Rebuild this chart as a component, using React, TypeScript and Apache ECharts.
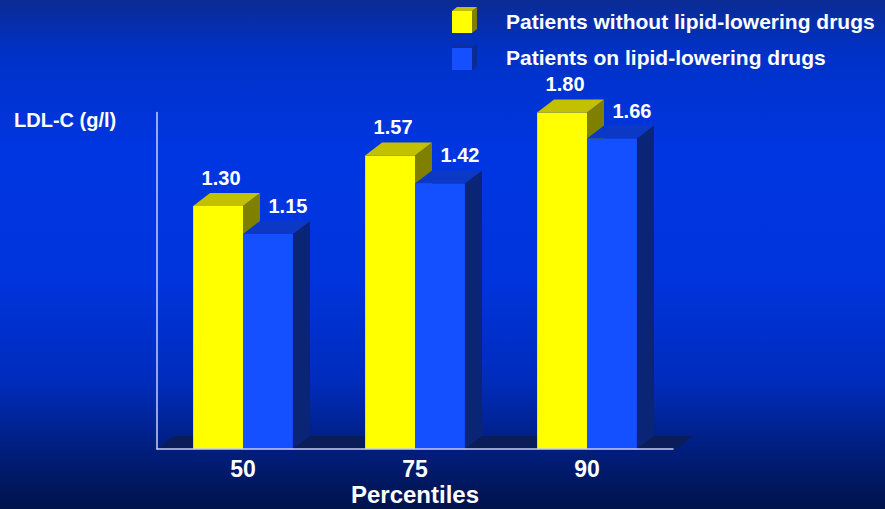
import React, { useEffect, useRef } from "react";
import * as echarts from "echarts";

// Percentile categories and LDL-C values (g/l)
const categories = ["50", "75", "90"];
const seriesNames = [
  "Patients without lipid-lowering drugs",
  "Patients on lipid-lowering drugs",
];
const withoutDrugs = [1.3, 1.57, 1.8];
const onDrugs = [1.15, 1.42, 1.66];
const yAxisTitle = "LDL-C (g/l)";
const xAxisTitle = "Percentiles";

// 3D face colours: [front, top, side]
const faceColors = [
  ["#ffff00", "#c2c000", "#808000"],
  ["#1450ff", "#0b38c4", "#0a2476"],
];

const DX = 17; // depth offset to the right
const DY = 13; // depth offset upwards
const FONT = '"Liberation Sans", Arial, sans-serif';

function barRenderer(s: number) {
  return (params: any, api: any) => {
    const cat = api.value(0);
    const val = api.value(1);
    const base = api.coord([cat, 0]);
    const top = api.coord([cat, val]);
    const band = api.size([1, 0])[0];
    const bw = band * 0.29;
    const cx = base[0];
    const y0 = base[1];
    const y1 = top[1];
    const x0 = s === 0 ? cx - bw : cx;
    const x1 = x0 + bw;
    const [front, topC, side] = faceColors[s];
    return {
      type: "group",
      children: [
        {
          type: "polygon",
          shape: {
            points: [
              [x1, y1],
              [x1 + DX, y1 - DY],
              [x1 + DX, y0 - DY],
              [x1, y0],
            ],
          },
          style: { fill: side },
        },
        {
          type: "rect",
          shape: { x: x0, y: y1, width: bw, height: y0 - y1 },
          style: { fill: front },
        },
        {
          type: "polygon",
          shape: {
            points: [
              [x0, y1],
              [x1, y1],
              [x1 + DX, y1 - DY],
              [x0 + DX, y1 - DY],
            ],
          },
          style: { fill: topC },
        },
        {
          type: "text",
          style: {
            text: val.toFixed(2),
            x: (x0 + x1) / 2 + (s === 0 ? 3 : 20),
            y: y1 - DY - 15,
            textAlign: "center",
            textVerticalAlign: "middle",
            fill: "#ffffff",
            font: `bold 20px ${FONT}`,
          },
          z2: 10,
        },
      ],
    };
  };
}

function floorRenderer(params: any) {
  const cs = params.coordSys;
  const yb = cs.y + cs.height;
  const xl = cs.x;
  const xr = cs.x + cs.width + 3;
  return {
    type: "polygon",
    shape: {
      points: [
        [xl, yb],
        [xr, yb],
        [xr + DX, yb - DY],
        [xl + DX, yb - DY],
      ],
    },
    style: { fill: "#0a1d58" },
  };
}

function legendCube(x: number, y: number, colors: string[]) {
  const w = 20;
  const h = 22;
  const dx = 5;
  const dy = 4;
  return [
    {
      type: "polygon",
      shape: { points: [[x + w, y], [x + w + dx, y - dy], [x + w + dx, y + h - dy], [x + w, y + h]] },
      style: { fill: colors[2] },
    },
    {
      type: "polygon",
      shape: { points: [[x, y], [x + w, y], [x + w + dx, y - dy], [x + dx, y - dy]] },
      style: { fill: colors[1] },
    },
    { type: "rect", shape: { x, y, width: w, height: h }, style: { fill: colors[0] } },
  ];
}

export default function App() {
  const ref = useRef<HTMLDivElement>(null);

  useEffect(() => {
    if (!ref.current) return;
    const chart = echarts.init(ref.current, null, { renderer: "svg" });
    chart.setOption({
      animation: false,
      backgroundColor: new echarts.graphic.LinearGradient(0, 0, 0, 1, [
        { offset: 0, color: "#0b2b94" },
        { offset: 0.1, color: "#0031c6" },
        { offset: 0.3, color: "#0036e2" },
        { offset: 0.55, color: "#0034dc" },
        { offset: 0.75, color: "#002cbc" },
        { offset: 0.87, color: "#001f84" },
        { offset: 1, color: "#00134a" },
      ]),
      grid: { left: 157, right: 212, top: 112.4, bottom: 60, outerBoundsMode: "none" },
      xAxis: {
        type: "category",
        data: categories,
        z: 10,
        axisLine: { show: true, lineStyle: { color: "#c8d0f0", width: 1.5 } },
        axisTick: { show: false },
        axisLabel: {
          color: "#ffffff",
          fontSize: 23,
          fontWeight: "bold",
          fontFamily: FONT,
          margin: 8,
        },
        name: xAxisTitle,
        nameLocation: "middle",
        nameGap: 33,
        nameMoveOverlap: false,
        nameTextStyle: {
          color: "#ffffff",
          fontSize: 24,
          fontWeight: "bold",
          fontFamily: FONT,
        },
      },
      yAxis: {
        type: "value",
        min: 0,
        max: 1.8,
        z: 10,
        axisLine: { show: true, lineStyle: { color: "#c8d0f0", width: 1.5 } },
        axisTick: { show: false },
        axisLabel: { show: false },
        splitLine: { show: false },
      },
      series: [
        {
          type: "custom",
          name: "floor",
          data: [[0, 0]],
          renderItem: floorRenderer,
          silent: true,
          z: 1,
        },
        {
          type: "custom",
          name: seriesNames[0],
          data: withoutDrugs.map((v, i) => [i, v]),
          encode: { x: 0, y: 1 },
          renderItem: barRenderer(0),
          clip: false,
          z: 2,
        },
        {
          type: "custom",
          name: seriesNames[1],
          data: onDrugs.map((v, i) => [i, v]),
          encode: { x: 0, y: 1 },
          renderItem: barRenderer(1),
          clip: false,
          z: 3,
        },
      ],
      graphic: [
        {
          type: "text",
          left: 14,
          top: 110,
          style: {
            text: yAxisTitle,
            fill: "#ffffff",
            font: `bold 20px ${FONT}`,
          },
        },
        ...legendCube(452, 11, faceColors[0]),
        ...legendCube(452, 48, ["#1450ff", "#0a2ea6", "#0a2a98"]),
        {
          type: "text",
          left: 506,
          top: 11,
          style: { text: seriesNames[0], fill: "#ffffff", font: `bold 21px ${FONT}` },
        },
        {
          type: "text",
          left: 506,
          top: 47,
          style: { text: seriesNames[1], fill: "#ffffff", font: `bold 21px ${FONT}` },
        },
      ],
    });
    return () => chart.dispose();
  }, []);

  return (
    <div
      ref={ref}
      style={{ position: "fixed", left: 0, top: 0, width: 885, height: 509 }}
    />
  );
}
